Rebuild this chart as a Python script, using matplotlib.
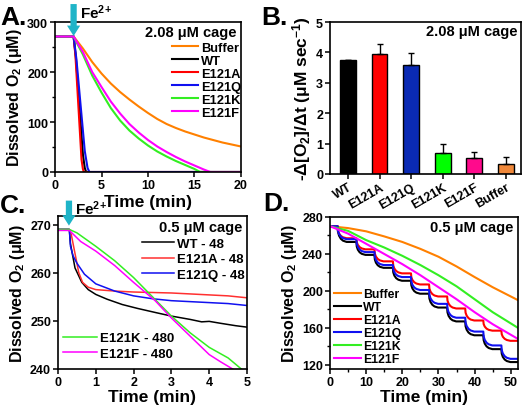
import matplotlib
matplotlib.use("Agg")
import matplotlib.pyplot as plt
from matplotlib.ticker import MultipleLocator

plt.rcParams.update({
    "font.family": ["Liberation Sans", "DejaVu Sans"],
    "font.weight": "bold",
    "axes.labelweight": "bold",
    "mathtext.fontset": "custom",
    "mathtext.rm": "Liberation Sans:bold",
    "mathtext.bf": "Liberation Sans:bold",
    "mathtext.it": "Liberation Sans:bold",
    "mathtext.default": "bf",
})

W, H = 524, 406
CYAN = "#1fb4c8"
ORANGE, RED, BLUE, GREEN, MAGENTA = "#ff8000", "#ff0000", "#1010f0", "#33ee22", "#ff00ff"

# ---- panel A: 2.08 uM cage, O2 traces ----
A_BUF_T = [0, 2.0, 3, 4, 5, 6, 7, 8, 9, 10, 11, 12, 13, 14, 15, 16, 17, 18, 19, 20]
A_BUF_Y = [271, 271, 247, 220, 197, 177, 160, 145, 131, 118, 106, 96, 88, 81, 75, 69, 64, 59, 55, 51]
A_WT_T = [0, 2.0, 2.25, 3.0, 3.2, 3.35, 20]
A_WT_Y = [271, 271, 228, 35, 8, 0, 0]
A_A_T = [0, 2.0, 2.2, 2.85, 3.0, 3.1, 20]
A_A_Y = [271, 271, 232, 25, 6, 0, 0]
A_Q_T = [0, 2.0, 2.3, 3.2, 3.5, 3.7, 20]
A_Q_Y = [271, 271, 226, 42, 8, 0, 0]
A_K_T = [0, 2.0, 3, 4, 5, 6, 7, 8, 9, 10, 11, 12, 13, 14, 15, 15.6, 20]
A_K_Y = [271, 271, 235, 193, 159, 128, 103, 83, 67, 53, 41, 31, 22, 14, 6, 0, 0]
A_F_T = [0, 2.0, 3, 4, 5, 6, 7, 8, 9, 10, 11, 12, 13, 14, 15, 16, 16.7, 20]
A_F_Y = [271, 271, 240, 200, 170, 141, 117, 96, 79, 64, 51, 40, 30, 21, 13, 5, 0, 0]

# ---- panel B: rates ----
B_NAMES = ["WT", "E121A", "E121Q", "E121K", "E121F", "Buffer"]
B_RATE = [3.74, 3.96, 3.58, 0.68, 0.54, 0.32]
B_ERR = [0.01, 0.31, 0.40, 0.30, 0.20, 0.23]
B_COLORS = ["#000000", "#ff0000", "#0a2ab4", "#00ff00", "#ff0a8c", "#f0883a"]

# ---- panel C: 0.5 uM cage, first 5 min ----
C_WT_T = [0, 0.3, 0.33, 0.45, 0.63, 0.8, 1.0, 1.3, 1.7, 2.1, 2.6, 3.0, 3.5, 3.8, 4.0, 4.3, 4.7, 5.0]
C_WT_Y = [269, 269, 266, 261, 258, 256.5, 255.5, 254.5, 253.4, 252.6, 251.7, 251, 250.3, 249.8, 249.9, 249.5, 249, 248.7]
C_A_T = [0, 0.3, 0.35, 0.45, 0.55, 0.65, 0.8, 1.0, 1.5, 2.0, 2.5, 3.0, 3.5, 4.0, 4.5, 5.0]
C_A_Y = [269, 269, 268, 264, 260, 258, 257, 256.5, 256.2, 256, 255.9, 255.8, 255.6, 255.4, 255.2, 254.8]
C_Q_T = [0, 0.3, 0.33, 0.4, 0.5, 0.7, 1.0, 1.5, 2.0, 2.5, 3.0, 3.5, 4.0, 4.5, 5.0]
C_Q_Y = [269, 269, 265.5, 263.5, 262, 259.7, 257.7, 256.2, 255.2, 254.6, 254.2, 254, 253.8, 253.6, 253.2]
C_K_T = [0, 0.3, 0.5, 1.0, 1.5, 2.0, 2.5, 3.0, 3.5, 4.0, 4.5, 4.85]
C_K_Y = [269, 269, 268.3, 265.5, 262.5, 259, 255, 251, 247.5, 244.5, 242.3, 240]
C_F_T = [0, 0.3, 0.6, 1.0, 1.5, 2.0, 2.57, 3.0, 3.5, 4.0, 4.3, 4.62]
C_F_Y = [268.8, 268.8, 266.5, 264.5, 261.5, 258, 254.2, 250.6, 246.8, 243, 241.5, 240]

# ---- panel D: 0.5 uM cage, repeated Fe2+ additions ----
D_T = [0, 5, 10, 15, 20, 25, 30, 35, 40, 45, 52]
D_BUF_Y = [270, 268, 264.5, 259, 253, 245.5, 237, 226.5, 215, 204, 190]
D_K_Y = [270, 265, 255, 247, 238, 228, 217, 205, 191, 177, 160]
D_F_Y = [270, 262, 251, 240, 229, 217, 204, 191, 177, 164, 148]
D_ADD_T = [2.1, 7.3, 12.3, 17.4, 22.4, 27.4, 32.4, 37.4, 42.4, 47.4]
D_WT_LEV = [270, 253, 239, 225, 211, 197, 182, 167, 152, 137, 123]
D_Q_LEV = [270, 256, 242, 228, 215, 201, 186, 171, 156, 141, 126.5]
D_A_LEV = [270, 257, 245, 232, 219, 207, 194, 181, 168, 157, 146]
STEP_DT = [0, 0.1, 0.4, 0.9, 1.5, 2.5]      # min after an addition
STEP_FRAC = [0, 0.35, 0.6, 0.8, 0.92, 1.0]  # fraction of that step's drop


def staircase(levels):
    t, y = [0], [levels[0]]
    for i, t0 in enumerate(D_ADD_T):
        a, b = levels[i], levels[i + 1]
        for dt, f in zip(STEP_DT, STEP_FRAC):
            t.append(t0 + dt)
            y.append(a + (b - a) * f)
    t.append(52)
    y.append(levels[-1])
    return t, y


fig = plt.figure(figsize=(W / 100, H / 100), dpi=100)


def px_axes(l, t, r, b):
    return fig.add_axes([l / W, 1 - b / H, (r - l) / W, (b - t) / H])


def style(ax):
    for s in ax.spines.values():
        s.set_linewidth(1.2)
    ax.tick_params(direction="out", width=1.1, length=3.5, labelsize=9, pad=1.5)
    ax.tick_params(which="minor", direction="out", width=1.0, length=2)


def fe_arrow(ax, x, y, dy_tail, dy_text):
    ax.annotate("", xy=(x, y), xytext=(0, dy_tail), textcoords="offset points",
                annotation_clip=False,
                arrowprops=dict(arrowstyle="simple,head_width=0.95,head_length=0.75,tail_width=0.45",
                                fc=CYAN, ec="none", shrinkA=0, shrinkB=0, mutation_scale=10))
    ax.annotate("Fe$^{2}$$^{+}$", xy=(x, y), xytext=(4.5, dy_text), textcoords="offset points",
                ha="left", va="baseline", fontsize=11, annotation_clip=False)


leg_kw = dict(frameon=False, borderpad=0, borderaxespad=0, handletextpad=0.2)

# ---------- A ----------
ax = px_axes(55, 23, 241, 173)
style(ax)
ax.plot(A_BUF_T, A_BUF_Y, color=ORANGE, lw=1.5, label="Buffer")
ax.plot(A_WT_T, A_WT_Y, color="k", lw=1.5, label="WT")
ax.plot(A_A_T, A_A_Y, color=RED, lw=1.5, label="E121A")
ax.plot(A_Q_T, A_Q_Y, color=BLUE, lw=1.5, label="E121Q")
ax.plot(A_K_T, A_K_Y, color=GREEN, lw=1.5, label="E121K")
ax.plot(A_F_T, A_F_Y, color=MAGENTA, lw=1.5, label="E121F")
ax.set_xlim(0, 20)
ax.set_ylim(0, 300)
ax.xaxis.set_major_locator(MultipleLocator(5))
ax.yaxis.set_major_locator(MultipleLocator(100))
ax.yaxis.set_minor_locator(MultipleLocator(50))
ax.set_xlabel("Time (min)", fontsize=12.5, labelpad=2)
ax.set_ylabel("Dissolved O$_2$ (μM)", fontsize=11.5, labelpad=2)
ax.text(0.978, 0.933, "2.08 μM cage", transform=ax.transAxes, ha="right", va="center", fontsize=10.5)
ax.legend(loc="upper right", bbox_to_anchor=(1.0, 0.87), handlelength=2.0,
          labelspacing=0.08, fontsize=9.3, **leg_kw)
fe_arrow(ax, 2.0, 272, 23, 13)

# ---------- B ----------
ax = px_axes(330, 23, 521, 175)
style(ax)
xs = list(range(1, len(B_NAMES) + 1))
ax.bar(xs, B_RATE, width=0.5, color=B_COLORS, edgecolor="k", linewidth=1.0,
       yerr=[[0] * len(B_ERR), B_ERR], capsize=2.5, error_kw=dict(elinewidth=1.0, capthick=1.0))
ax.set_xlim(0.43, 6.48)
ax.set_ylim(0, 5)
ax.set_xticks(xs)
ax.set_xticklabels(B_NAMES, rotation=30, ha="right", rotation_mode="anchor", fontsize=9)
ax.yaxis.set_major_locator(MultipleLocator(1))
ax.set_ylabel("-Δ[O$_2$]/Δt (μM sec$^{-1}$)", fontsize=12.5, labelpad=2)
ax.text(0.983, 0.943, "2.08 μM cage", transform=ax.transAxes, ha="right", va="center", fontsize=10.5)

# ---------- C ----------
ax = px_axes(58, 217, 247, 370)
style(ax)
l_wt, = ax.plot(C_WT_T, C_WT_Y, color="k", lw=1.1, label="WT - 48")
l_a, = ax.plot(C_A_T, C_A_Y, color="#ff3030", lw=1.1, label="E121A - 48")
l_q, = ax.plot(C_Q_T, C_Q_Y, color=BLUE, lw=1.1, label="E121Q - 48")
l_k, = ax.plot(C_K_T, C_K_Y, color=GREEN, lw=1.1, label="E121K - 480")
l_f, = ax.plot(C_F_T, C_F_Y, color=MAGENTA, lw=1.1, label="E121F - 480")
ax.set_xlim(0, 5)
ax.set_ylim(240, 271.8)
ax.xaxis.set_major_locator(MultipleLocator(1))
ax.yaxis.set_major_locator(MultipleLocator(10))
ax.set_xlabel("Time (min)", fontsize=12.5, labelpad=1)
ax.set_ylabel("Dissolved O$_2$ (μM)", fontsize=11.5, labelpad=2)
ax.text(0.977, 0.928, "0.5 μM cage", transform=ax.transAxes, ha="right", va="center", fontsize=10.5)
leg1 = ax.legend(handles=[l_wt, l_a, l_q], loc="upper right", bbox_to_anchor=(0.985, 0.86),
                 handlelength=2.4, labelspacing=0.25, fontsize=9.5, **leg_kw)
ax.add_artist(leg1)
ax.legend(handles=[l_k, l_f], loc="lower left", bbox_to_anchor=(0.026, 0.06),
          handlelength=2.6, labelspacing=0.25, fontsize=9.5, **leg_kw)
fe_arrow(ax, 0.29, 269.8, 18, 8.5)

# ---------- D ----------
ax = px_axes(330, 218, 518, 370)
style(ax)
wt_t, wt_y = staircase(D_WT_LEV)
q_t, q_y = staircase(D_Q_LEV)
a_t, a_y = staircase(D_A_LEV)
ax.plot(D_T, D_BUF_Y, color=ORANGE, lw=1.5, label="Buffer")
ax.plot(wt_t, wt_y, color="k", lw=1.5, label="WT")
ax.plot(a_t, a_y, color=RED, lw=1.5, label="E121A")
ax.plot(q_t, q_y, color=BLUE, lw=1.5, label="E121Q")
ax.plot(D_T, D_K_Y, color=GREEN, lw=1.5, label="E121K")
ax.plot(D_T, D_F_Y, color=MAGENTA, lw=1.5, label="E121F")
ax.set_xlim(0, 52)
ax.set_ylim(115.5, 280)
ax.xaxis.set_major_locator(MultipleLocator(10))
ax.xaxis.set_minor_locator(MultipleLocator(5))
ax.yaxis.set_major_locator(MultipleLocator(40))
ax.yaxis.set_minor_locator(MultipleLocator(20))
ax.set_xlabel("Time (min)", fontsize=12.5, labelpad=1)
ax.set_ylabel("Dissolved O$_2$ (μM)", fontsize=11.5, labelpad=2)
ax.text(0.977, 0.934, "0.5 μM cage", transform=ax.transAxes, ha="right", va="center", fontsize=10.5)
ax.legend(loc="lower left", bbox_to_anchor=(0.02, 0.026), handlelength=2.2,
          labelspacing=0.08, fontsize=8.8, **leg_kw)

# panel letters
for x, y, s in [(0, 25, "A."), (261, 25, "B."), (0, 213, "C."), (263, 211, "D.")]:
    fig.text(x / W, 1 - y / H, s, fontsize=19, fontweight="bold", va="baseline", ha="left")

fig.savefig("out.png", dpi=100)
